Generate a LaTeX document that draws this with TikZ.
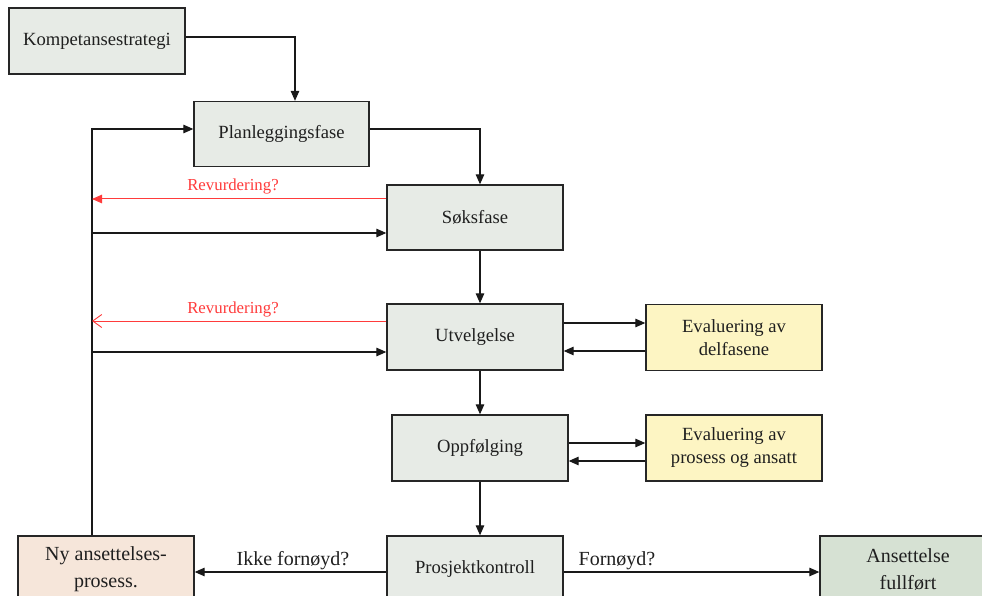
\documentclass[tikz,border=0pt]{standalone}
\usepackage{fontspec}
\setmainfont{Liberation Serif}
\usetikzlibrary{arrows.meta}
\definecolor{phasegray}{HTML}{E7EBE6}
\definecolor{evalyellow}{HTML}{FDF5C3}
\definecolor{newpeach}{HTML}{F6E6DA}
\definecolor{donegreen}{HTML}{D6E1D3}
\definecolor{framegray}{HTML}{262626}
\definecolor{revred}{HTML}{FF3B3B}
\tikzset{
  phase/.style={draw=framegray, line width=1.3pt, fill=phasegray, minimum width=176pt,
    minimum height=66pt, inner sep=2pt, align=center, text=black!88,
    font=\fontsize{18.6}{21}\selectfont},
  evalbox/.style={phase, fill=evalyellow, font=\fontsize{18.6}{23}\selectfont},
  endbox/.style={phase, font=\fontsize{20}{27}\selectfont},
  flow/.style={line width=1.2pt, draw=black!90, -{Triangle[length=10pt,width=8.5pt]}},
  back/.style={line width=1pt, draw=revred, -{Triangle[length=10pt,width=8.5pt]}},
  backopen/.style={line width=0.9pt, draw=revred, -{Straight Barb[length=9pt,width=13pt,line width=0.9pt]}},
  revlabel/.style={text=revred, font=\fontsize{16.8}{18}\selectfont, inner sep=1pt},
  answer/.style={text=black!88, font=\fontsize{20}{22}\selectfont, inner sep=1pt}
}
\begin{document}
\begin{tikzpicture}[x=1pt,y=-1pt]
\useasboundingbox (0,0) rectangle (982,596);
\clip (0,0) rectangle (982,596);

% phases
\node[phase] (komp) at (97,41) {Kompetansestrategi};
\node[phase, minimum width=175pt, minimum height=65pt] (plan) at (281.5,134) {Planleggingsfase};
\node[phase, minimum height=65pt] (soek) at (475,217.5) {Søksfase};
\node[phase] (utv) at (475,337) {Utvelgelse};
\node[phase] (opp) at (480,448) {Oppfølging};
\node[phase] (pro) at (475,569) {Prosjektkontroll};

% evaluations
\node[evalbox] (ev1) at (734,337.5) {Evaluering av\\delfasene};
\node[evalbox] (ev2) at (734,448) {Evaluering av\\prosess og ansatt};

% outcomes
\node[endbox, fill=newpeach] (ny) at (106,569) {Ny ansettelses-\\prosess.};
\node[endbox, fill=donegreen] (ans) at (908,569) {Ansettelse\\fullført};

% helper levels
\coordinate (kout) at (295,37);
\coordinate (pout) at (480,129);
\coordinate (spine) at (92,129);
\coordinate (rev1) at (92,199);
\coordinate (in1) at (92,233);
\coordinate (rev2) at (92,321);
\coordinate (in2) at (92,352);
\coordinate (e1a) at (0,323);
\coordinate (e1b) at (0,351);
\coordinate (e2a) at (0,443);
\coordinate (e2b) at (0,461);
\coordinate (res) at (0,572);

% main flow
\draw[flow] (komp.east |- kout) -- (kout) -- (kout |- plan.north);
\draw[flow] (plan.east |- pout) -- (pout) -- (pout |- soek.north);
\draw[flow] (pout |- soek.south) -- (pout |- utv.north);
\draw[flow] (pout |- utv.south) -- (pout |- opp.north);
\draw[flow] (opp.south) -- (pout |- pro.north);

% loop back to planning
\draw[flow] (ny.north -| spine) -- (spine) -- (plan.west |- spine);
\draw[flow] (in1) -- (soek.west |- in1);
\draw[flow] (in2) -- (utv.west |- in2);

% reconsideration
\draw[back] (soek.west |- rev1) -- (rev1);
\draw[backopen] (utv.west |- rev2) -- (rev2);
\node[revlabel] (rl1) at (233,186) {Revurdering?};
\node[revlabel] (rl2) at (233,309) {Revurdering?};

% evaluation exchange
\draw[flow] (utv.east |- e1a) -- (ev1.west |- e1a);
\draw[flow] (ev1.west |- e1b) -- (utv.east |- e1b);
\draw[flow] (opp.east |- e2a) -- (ev2.west |- e2a);
\draw[flow] (ev2.west |- e2b) -- (opp.east |- e2b);

% project control outcomes
\draw[flow] (pro.west |- res) -- (ny.east |- res);
\draw[flow] (pro.east |- res) -- (ans.west |- res);
\node[answer] (nok) at (293,561) {Ikke fornøyd?};
\node[answer] (ok) at (617,561) {Fornøyd?};
\end{tikzpicture}
\end{document}
